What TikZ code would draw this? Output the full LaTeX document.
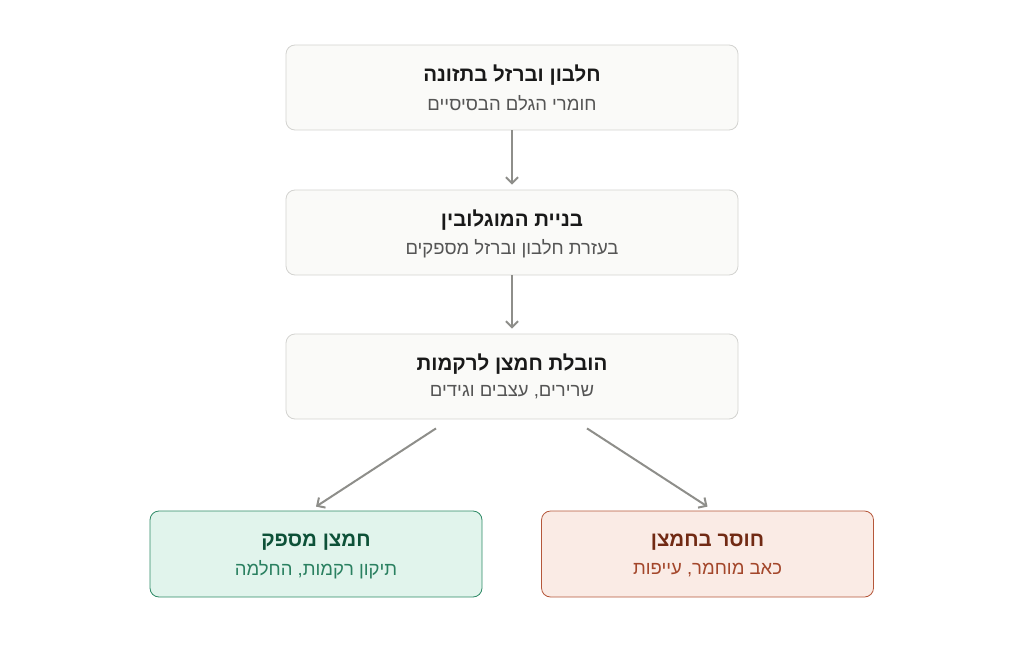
\documentclass[tikz,border=0pt]{standalone}
\usepackage{fontspec}
\usetikzlibrary{arrows.meta}
\TeXXeTstate=1
\newfontfamily\hebfont[Script=Hebrew]{Liberation Sans}
\definecolor{boxfill}{HTML}{FAFAF8}
\definecolor{boxline}{HTML}{D3D3D0}
\definecolor{okfill}{HTML}{E1F4EC}
\definecolor{okline}{HTML}{2E8A66}
\definecolor{oktitle}{HTML}{0D5138}
\definecolor{oktext}{HTML}{2A8060}
\definecolor{badfill}{HTML}{FAEBE5}
\definecolor{badline}{HTML}{B5573A}
\definecolor{badtitle}{HTML}{712A14}
\definecolor{badtext}{HTML}{A3462A}
\definecolor{subgray}{HTML}{555555}
\definecolor{arrowgray}{HTML}{8E8E8A}
\tikzset{
  stagebox/.style={draw=boxline,fill=boxfill,rounded corners=9pt,line width=0.8pt,
    minimum width=452pt,minimum height=85pt,inner sep=0pt},
  okbox/.style={stagebox,draw=okline,fill=okfill,minimum width=332pt,minimum height=86pt},
  badbox/.style={stagebox,draw=badline,fill=badfill,minimum width=332pt,minimum height=86pt},
  title/.style={font=\hebfont\bfseries\fontsize{20.5}{24}\selectfont,text=black!90,inner sep=0pt},
  subtitle/.style={font=\hebfont\fontsize{18.5}{21}\selectfont,text=subgray,inner sep=0pt},
  flow/.style={draw=arrowgray,line width=2pt,-{Straight Barb[length=6pt,width=12pt,line width=2pt]}}
}
\begin{document}
\begin{tikzpicture}[x=1pt,y=-1pt]
  \useasboundingbox (0,0) rectangle (1024,663);
  % stages
  \node[stagebox] (food) at (512,87.5) {};
  \node[title] (foodT) at ([yshift=12pt]food.center) {\beginR חלבון וברזל בתזונה\endR};
  \node[subtitle] (foodS) at ([yshift=-16pt]food.center) {\beginR חומרי הגלם הבסיסיים\endR};
  \node[stagebox] (build) at (512,232.5) {};
  \node[title] (buildT) at ([yshift=12pt]build.center) {\beginR בניית המוגלובין\endR};
  \node[subtitle] (buildS) at ([yshift=-16pt]build.center) {\beginR בעזרת חלבון וברזל מספקים\endR};
  \node[stagebox] (carry) at (512,376.5) {};
  \node[title] (carryT) at ([yshift=12pt]carry.center) {\beginR הובלת חמצן לרקמות\endR};
  \node[subtitle] (carryS) at ([yshift=-16pt]carry.center) {\beginR שרירים, עצבים וגידים\endR};
  % outcomes
  \node[okbox] (ok) at (316,554) {};
  \node[title,text=oktitle] (okT) at ([yshift=12pt]ok.center) {\beginR חמצן מספק\endR};
  \node[subtitle,text=oktext] (okS) at ([yshift=-16pt]ok.center) {\beginR תיקון רקמות, החלמה\endR};
  \node[badbox] (bad) at (707.5,554) {};
  \node[title,text=badtitle] (badT) at ([yshift=12pt]bad.center) {\beginR חוסר בחמצן\endR};
  \node[subtitle,text=badtext] (badS) at ([yshift=-16pt]bad.center) {\beginR כאב מוחמר, עייפות\endR};
  % arrows
  \draw[flow,shorten >=5pt] (food.south) -- (build.north);
  \draw[flow,shorten >=5pt] (build.south) -- (carry.north);
  \coordinate (splitL) at ([xshift=-76pt,yshift=-9pt]carry.south);
  \coordinate (splitR) at ([xshift=75pt,yshift=-9pt]carry.south);
  \draw[flow] (splitL) -- ([yshift=4pt]ok.north);
  \draw[flow] (splitR) -- ([yshift=4pt]bad.north);
\end{tikzpicture}
\end{document}
